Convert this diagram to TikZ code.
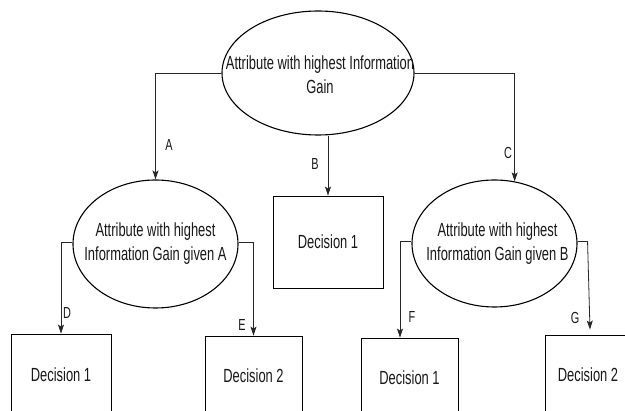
\documentclass[tikz,border=0pt]{standalone}
\usepackage{fontspec}
\setmainfont{Liberation Sans}[FakeStretch=0.68]
\usetikzlibrary{shapes.geometric,arrows.meta,calc}
\begin{document}
\begin{tikzpicture}[x=1pt,y=-1pt,
  txt/.style={align=center,inner sep=0pt,font=\fontsize{19}{24}\selectfont,text=black!90},
  ell/.style={ellipse,draw=black,line width=1.1pt,inner sep=0pt},
  dbox/.style={rectangle,draw=black,line width=0.9pt,inner sep=0pt,
    font=\fontsize{19}{24}\selectfont,text=black!90},
  lbl/.style={font=\fontsize{16}{18}\selectfont,text=black!90,inner sep=0pt},
  arr/.style={draw=black!85,line width=0.8pt,-{Stealth[length=9pt,width=6pt,inset=2pt]}}]
\useasboundingbox (0,0) rectangle (625,411);
\clip (0,0) rectangle (625,411);
\fill[white] (0,0) rectangle (625,411);
% nodes
\node[ell,minimum width=192pt,minimum height=124pt,
  label={[txt,xshift=2pt,yshift=-2pt]center:{Attribute with highest Information\\Gain}}] (root) at (318,73) {};
\node[ell,minimum width=165pt,minimum height=128pt,
  label={[txt]center:{Attribute with highest\\Information Gain given A}}] (eA) at (155.5,244) {};
\node[ell,minimum width=165pt,minimum height=127pt,
  label={[txt,xshift=3pt]center:{Attribute with highest\\Information Gain given B}}] (eB) at (494.5,243.5) {};
\node[dbox,minimum width=110pt,minimum height=92pt] (dM) at (328,242) {Decision 1};
\node[dbox,minimum width=100pt,minimum height=82pt] (dD) at (61,375) {Decision 1};
\node[dbox,minimum width=97pt,minimum height=79pt] (dE) at (253.5,375.5) {Decision 2};
\node[dbox,minimum width=97pt,minimum height=80pt] (dF) at (409.5,378) {Decision 1};
\node[dbox,minimum width=86pt,minimum height=80pt] (dG) at (588,375) {Decision 2};
% connectors
\draw[arr] (root.west) -| (eA.north);
\draw[arr] (root.east) -| (eB.72);
\draw[arr] (dM.north |- root.south) -- (dM.north);
\draw[arr] ([yshift=2pt]eA.west) -| (dD.north);
\draw[arr] ([yshift=2pt]eA.east) -| (dE.north);
\draw[arr] ([yshift=2pt]eB.west) -| ([xshift=-9.5pt]dF.north);
\draw[arr] ([yshift=2pt]eB.east) -- ++(10,0) -- ([xshift=2pt,yshift=5pt]dG.north);
% labels
\node[lbl] (lA) at (169,145) {A};
\node[lbl] (lB) at (315,164) {B};
\node[lbl] (lC) at (508,153) {C};
\node[lbl] (lD) at (67,313) {D};
\node[lbl] (lE) at (242,325) {E};
\node[lbl] (lF) at (412,317) {F};
\node[lbl] (lG) at (575,318) {G};
\end{tikzpicture}
\end{document}
